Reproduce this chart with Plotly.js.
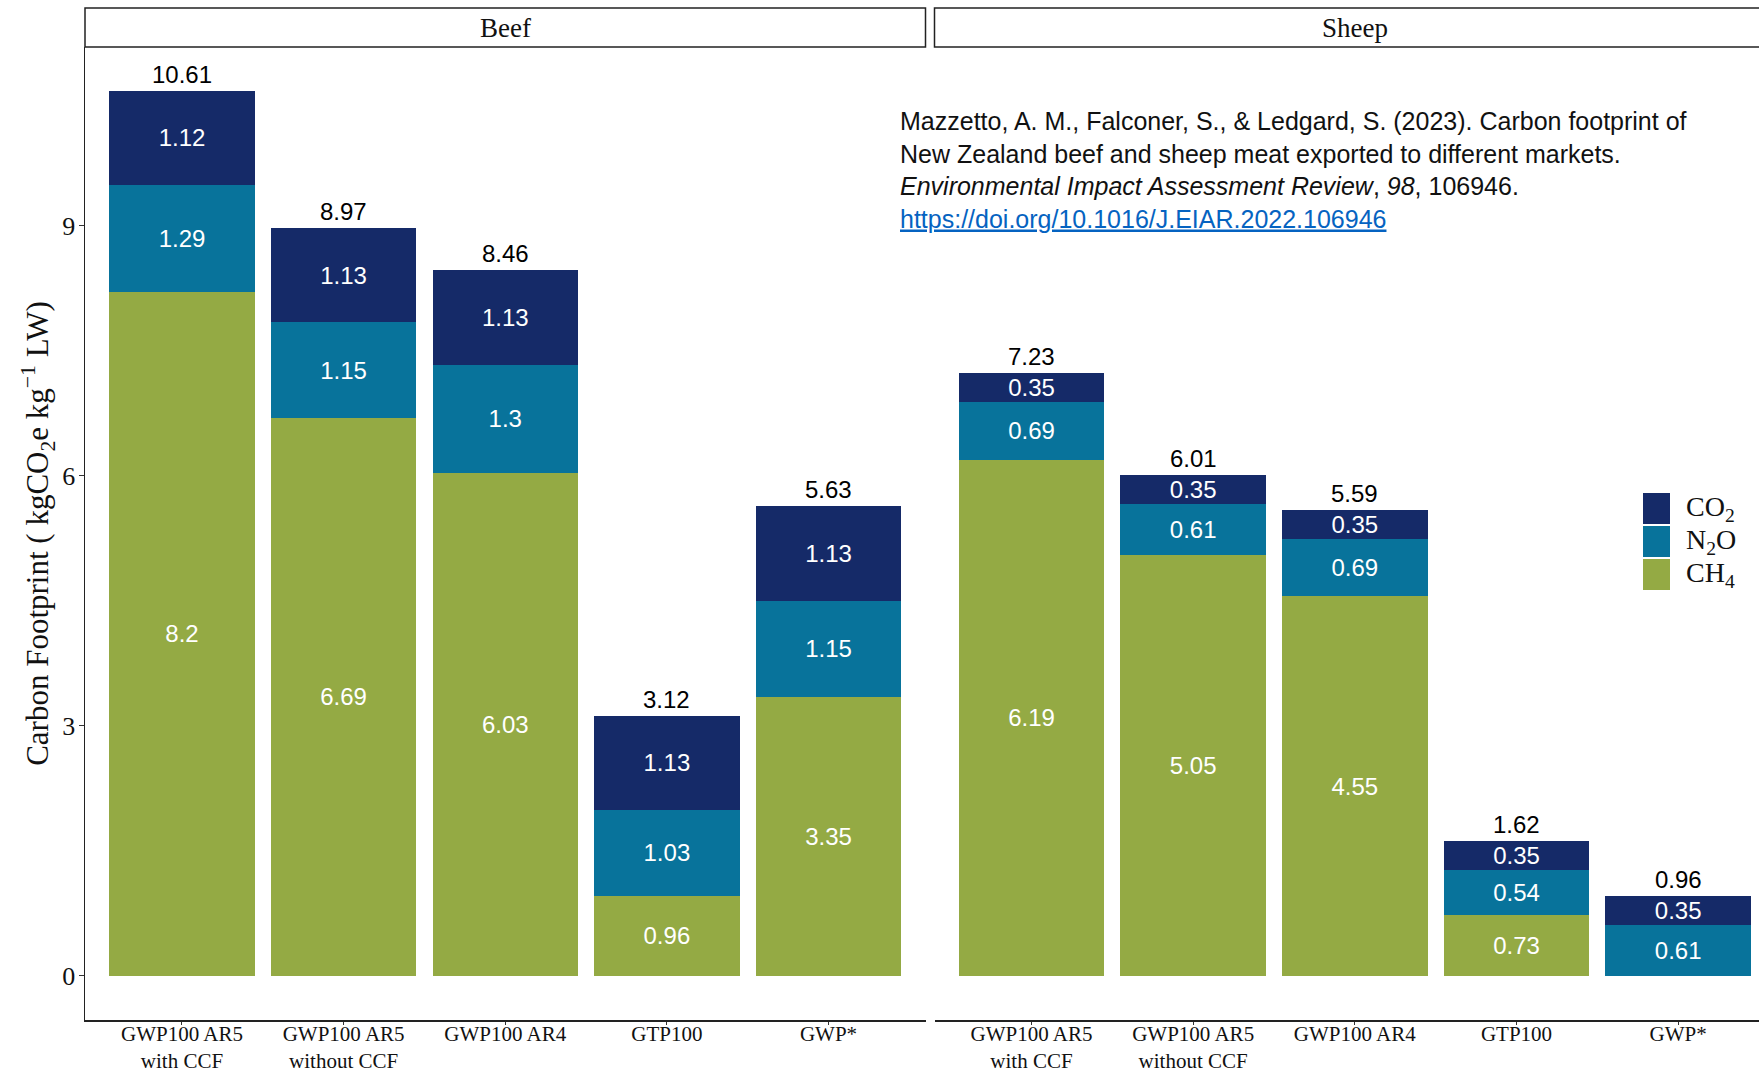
<!DOCTYPE html>
<html>
<head>
<meta charset="utf-8">
<script src="https://cdn.plot.ly/plotly-3.0.1.min.js"></script>
<style>html,body{margin:0;padding:0;background:#fff;}#chart{width:1759px;height:1073px;}</style>
</head>
<body>
<div id="chart"></div>
<script>
// ---- data ----
const categories = ['GWP100 AR5<br>with CCF', 'GWP100 AR5<br>without CCF', 'GWP100 AR4', 'GTP100', 'GWP*'];
const panels = ['Beef', 'Sheep'];

const beefCH4 = [8.2, 6.69, 6.03, 0.96, 3.35];
const beefN2O = [1.29, 1.15, 1.3, 1.03, 1.15];
const beefCO2 = [1.12, 1.13, 1.13, 1.13, 1.13];

const sheepCH4 = [6.19, 5.05, 4.55, 0.73, 0];
const sheepN2O = [0.69, 0.61, 0.69, 0.54, 0.61];
const sheepCO2 = [0.35, 0.35, 0.35, 0.35, 0.35];

const gasNames = ['CH<sub>4</sub>', 'N<sub>2</sub>O', 'CO<sub>2</sub>'];
const gasColors = ['#94AA44', '#08739B', '#152A68'];

const citation = 'Mazzetto, A. M., Falconer, S., &amp; Ledgard, S. (2023). Carbon footprint of<br>' +
  'New Zealand beef and sheep meat exported to different markets.<br>' +
  '<i>Environmental Impact Assessment Review</i>, <i>98</i>, 106946.<br>' +
  '<a href="https://doi.org/10.1016/J.EIAR.2022.106946" style="color:#0563C1"><u>https://doi.org/10.1016/J.EIAR.2022.106946</u></a>';

// ---- helpers ----
const sansFont = 'Liberation Sans, Arial, sans-serif';
const serifFont = 'Liberation Serif, Times New Roman, serif';
const M = {l: 85, r: 0, t: 47, b: 53}, W = 1759, H = 1073;
const PW = W - M.l - M.r, PH = H - M.t - M.b;
const px2x = px => (px - M.l) / PW;
const px2y = py => 1 - (py - M.t) / PH;

function labels(vals) { return vals.map(v => v > 0 ? String(v) : ''); }

const panelData = [
  {xa: 'x', series: [beefCH4, beefN2O, beefCO2]},
  {xa: 'x2', series: [sheepCH4, sheepN2O, sheepCO2]}
];

const traces = [];
panelData.forEach(p => {
  p.series.forEach((vals, i) => {
    traces.push({
      type: 'bar',
      x: categories,
      y: vals,
      xaxis: p.xa,
      yaxis: 'y',
      name: gasNames[i],
      showlegend: false,
      marker: {color: gasColors[i], line: {width: 0}},
      text: labels(vals),
      textposition: 'inside',
      insidetextanchor: 'middle',
      textangle: 0,
      constraintext: 'none',
      textfont: {family: sansFont, size: 24, color: '#ffffff'},
      hoverinfo: 'skip'
    });
  });
});

const annotations = [];
panelData.forEach((p, pi) => {
  categories.forEach((c, ci) => {
    const tot = p.series.reduce((s, arr) => s + arr[ci], 0);
    annotations.push({
      xref: p.xa, yref: 'y', x: c, y: tot,
      text: tot.toFixed(2), showarrow: false,
      yanchor: 'bottom', yshift: 1,
      font: {family: sansFont, size: 24, color: '#000'}
    });
  });
  annotations.push({
    xref: p.xa, yref: 'paper', x: categories[2], y: 1.02,
    text: panels[pi], showarrow: false, yanchor: 'middle',
    font: {family: serifFont, size: 27, color: '#111'}
  });
});

annotations.push({
  xref: 'paper', yref: 'paper', x: px2x(898), y: px2y(105),
  xanchor: 'left', yanchor: 'top', align: 'left',
  text: citation, showarrow: false,
  font: {family: sansFont, size: 25, color: '#111'}
});

const shapes = [
  {type: 'rect', xref: 'x domain', yref: 'paper', x0: 0, x1: 1, y0: 1, y1: px2y(8),
   line: {color: '#222', width: 1.5}, fillcolor: '#fff', layer: 'below'},
  {type: 'rect', xref: 'x2 domain', yref: 'paper', x0: 0, x1: 1.05, y0: 1, y1: px2y(8),
   line: {color: '#222', width: 1.5}, fillcolor: '#fff', layer: 'below'}
];

// legend (drawn as keys + labels, top to bottom: CO2, N2O, CH4)
const legendOrder = [2, 1, 0];
const keyTop = 492, keyH = 33, keyL = 1643, keyR = 1670;
legendOrder.forEach((gi, k) => {
  const y0 = keyTop + k * keyH;
  shapes.push({type: 'rect', xref: 'paper', yref: 'paper',
    x0: px2x(keyL), x1: px2x(keyR), y0: px2y(y0 + 1), y1: px2y(y0 + keyH - 1),
    line: {width: 0}, fillcolor: gasColors[gi]});
  annotations.push({xref: 'paper', yref: 'paper', x: px2x(1684), y: px2y(y0 + keyH / 2),
    xanchor: 'left', yanchor: 'middle', text: gasNames[gi], showarrow: false,
    font: {family: serifFont, size: 28, color: '#111'}});
});

const xCommon = {
  type: 'category',
  showline: true, linecolor: '#222', linewidth: 1.5,
  ticks: 'outside', ticklen: 3, tickcolor: '#333', tickwidth: 1,
  showgrid: false, zeroline: false,
  tickfont: {family: serifFont, size: 21, color: '#111'},
  ticklabelstandoff: -9,
  anchor: 'y'
};

const layout = {
  width: W, height: H,
  margin: M,
  paper_bgcolor: '#fff', plot_bgcolor: '#fff',
  barmode: 'stack', bargap: 0.1,
  xaxis: Object.assign({}, xCommon, {domain: [0, px2x(925.5)], range: [-0.6, 4.6]}),
  xaxis2: Object.assign({}, xCommon, {domain: [px2x(934.5), 1], range: [-0.6, 4.5]}),
  yaxis: {
    range: [-0.53, 11.14], tickvals: [0, 3, 6, 9],
    showline: true, linecolor: '#222', linewidth: 1.5,
    ticks: 'outside', ticklen: 5, tickcolor: '#333',
    showgrid: false, zeroline: false,
    tickfont: {family: serifFont, size: 26, color: '#111'},
    ticklabelstandoff: -2,
    title: {text: 'Carbon Footprint ( kgCO<sub>2</sub>e kg<sup>\u22121</sup> LW)',
            font: {family: serifFont, size: 31, color: '#111'}, standoff: 4}
  },
  annotations: annotations,
  shapes: shapes,
  showlegend: false
};

Plotly.newPlot('chart', traces, layout, {displayModeBar: false, staticPlot: true});
</script>
</body>
</html>
